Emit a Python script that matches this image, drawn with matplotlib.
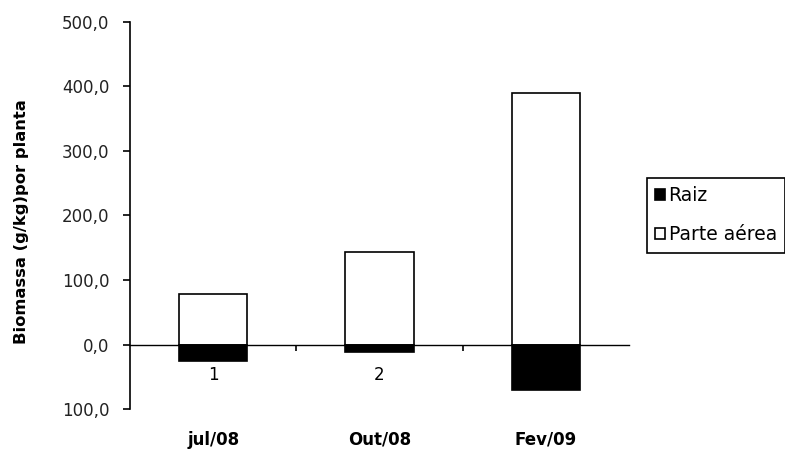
import matplotlib.pyplot as plt
import numpy as np

# biomass per plant, shoot above zero and root below
meses = ["jul/08", "Out/08", "Fev/09"]
categorias = ["1", "2", "3"]
parte_aerea = [79.0, 144.0, 390.0]
raiz = [-25.0, -11.0, -71.0]
yticks = [-100, 0, 100, 200, 300, 400, 500]
ytick_labels = ["100,0", "0,0", "100,0", "200,0", "300,0", "400,0", "500,0"]

plt.rcParams["font.family"] = ["DejaVu Sans"]

fig = plt.figure(figsize=[7.85, 4.62], dpi=100)
ax = fig.add_axes([0.1656, 0.1147, 0.6357, 0.8377])

x = np.arange(len(meses))
w = 0.41
ax.bar(x, parte_aerea, width=w, color="white", edgecolor="black", linewidth=1.2,
       label="Parte aérea", zorder=2)
ax.bar(x, raiz, width=w, color="black", edgecolor="black", linewidth=1.2,
       label="Raiz", zorder=2)

ax.set_xlim(-0.5, len(meses) - 0.5)
ax.set_ylim(-100, 500)

for s in ["top", "right"]:
    ax.spines[s].set_visible(False)
ax.spines["bottom"].set_position(("data", 0))
ax.spines["bottom"].set_linewidth(1.0)
ax.spines["left"].set_linewidth(1.2)

ax.set_xticks([0.5, 1.5])
ax.set_xticklabels([])
ax.tick_params(axis="x", direction="out", length=4, width=1.2)
ax.set_yticks(yticks)
ax.set_yticklabels(ytick_labels)
ax.tick_params(axis="y", direction="out", length=5, width=1.2, labelsize=12,
               pad=10, labelcolor="#222222")

# category numbers sit under the bars (the third is covered by the root bar)
for xi, c in zip(x, categorias):
    ax.text(xi, -48, c, ha="center", va="center", fontsize=12, zorder=1)
for xi, m in zip(x, meses):
    ax.text(xi, -148, m, ha="center", va="center", fontsize=12,
            fontweight="bold", clip_on=False)

fig.text(22 / 785, 1 - 222 / 462, "Biomassa (g/kg)por planta", rotation=90,
         ha="center", va="center", fontsize=11.8, fontweight="bold")

h, l = ax.get_legend_handles_labels()
leg = fig.legend(h[::-1], l[::-1], loc="upper left",
                 bbox_to_anchor=(647 / 785, 1 - 178 / 462),
                 fancybox=False, edgecolor="black", framealpha=1,
                 fontsize=13.5, handlelength=0.5, handleheight=0.5,
                 handletextpad=0.2, borderpad=0.45, labelspacing=1.05,
                 borderaxespad=0)
leg.get_frame().set_linewidth(1.2)

plt.savefig("out.png", dpi=100)
